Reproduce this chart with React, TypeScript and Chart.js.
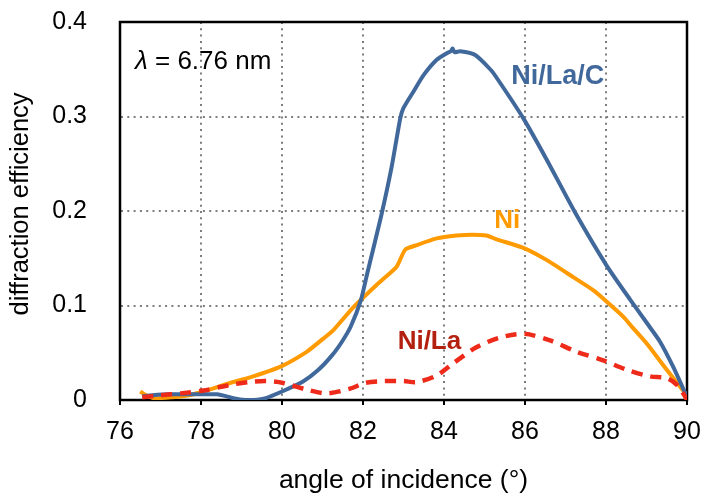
import React, { useEffect, useRef } from "react";
import { Chart, registerables } from "chart.js";

Chart.register(...registerables);

// Ni/La/C (blue)
const niLaCAngle = [76.55, 76.8, 77.2, 77.6, 78.0, 78.4, 78.8, 79.1, 79.3, 79.6, 80.0, 80.5, 80.9, 81.25, 81.5, 81.7, 81.95, 82.1, 82.45, 82.7, 82.92, 83.0, 83.24, 83.5, 83.82, 84.07, 84.17, 84.21, 84.26, 84.4, 84.77, 85.14, 85.3, 85.96, 86.54, 87.23, 88.02, 88.6, 89.0, 89.33, 89.66, 90.0];
const niLaCEff = [0.004, 0.005, 0.006, 0.006, 0.006, 0.006, 0.002, 0.0, 0.0, 0.002, 0.009, 0.019, 0.032, 0.048, 0.063, 0.078, 0.106, 0.133, 0.195, 0.245, 0.298, 0.309, 0.326, 0.344, 0.36, 0.367, 0.369, 0.372, 0.368, 0.369, 0.365, 0.35, 0.341, 0.298, 0.254, 0.199, 0.142, 0.106, 0.082, 0.062, 0.035, 0.003];

// Ni (orange)
const niAngle = [76.5, 76.6, 76.85, 77.3, 77.7, 78.06, 78.72, 79.29, 79.95, 80.61, 81.02, 81.27, 81.76, 82.34, 82.83, 83.04, 83.33, 83.82, 84.31, 84.7, 85.05, 85.3, 85.96, 86.54, 87.19, 87.69, 88.02, 88.43, 88.67, 89.0, 89.5, 89.83, 90.0];
const niEff = [0.009, 0.006, 0.002, 0.003, 0.005, 0.009, 0.018, 0.025, 0.035, 0.051, 0.065, 0.074, 0.098, 0.122, 0.141, 0.159, 0.164, 0.171, 0.174, 0.175, 0.174, 0.17, 0.161, 0.148, 0.13, 0.116, 0.104, 0.088, 0.076, 0.06, 0.032, 0.014, 0.005];

// Ni/La (red dashed)
const niLaAngle = [76.55, 77.0, 77.5, 78.06, 78.72, 79.21, 79.62, 80.03, 80.61, 81.1, 81.68, 82.05, 82.5, 83.0, 83.33, 83.82, 84.23, 84.81, 85.38, 85.98, 86.62, 87.28, 87.93, 88.51, 89.09, 89.5, 89.75, 89.95, 90.0];
const niLaEff = [0.003, 0.005, 0.007, 0.01, 0.016, 0.019, 0.02, 0.018, 0.011, 0.007, 0.012, 0.018, 0.02, 0.02, 0.019, 0.026, 0.039, 0.056, 0.066, 0.07, 0.063, 0.051, 0.042, 0.032, 0.025, 0.023, 0.016, 0.004, 0.0];

const xTicks = [76, 78, 80, 82, 84, 86, 88, 90];
const yTicks = [0, 0.1, 0.2, 0.3, 0.4];
const yTickLabels = ["0", "0.1", "0.2", "0.3", "0.4"];

const xTitle = "angle of incidence (°)";
const yTitle = "diffraction efficiency";

const seriesLabels = ["Ni/La/C", "Ni", "Ni/La"];

const FONT = "'Liberation Sans', Arial, Helvetica, sans-serif";
const BLUE = "#41689b";
const ORANGE = "#ff9a00";
const RED = "#ee2a1b";
const DARKRED = "#b3200f";

const zip = (xs: number[], ys: number[]) => xs.map((x, i) => ({ x, y: ys[i] }));

const framePlugin = {
  id: "frame",
  beforeDatasetsDraw(chart: any) {
    const { ctx, chartArea } = chart;
    const { left, top, right, bottom } = chartArea;
    ctx.save();
    ctx.strokeStyle = "#000";
    ctx.lineWidth = 2.5;
    ctx.strokeRect(left, top, right - left, bottom - top);
    ctx.restore();
  },
};

const labelPlugin = {
  id: "seriesLabels",
  afterDatasetsDraw(chart: any) {
    const { ctx, scales } = chart;
    const xs = scales.x;
    const ys = scales.y;
    ctx.save();
    ctx.textBaseline = "middle";
    ctx.textAlign = "center";
    const put = (text: string, x: number, y: number, color: string, size: number) => {
      ctx.font = `bold ${size}px ${FONT}`;
      ctx.fillStyle = color;
      ctx.fillText(text, xs.getPixelForValue(x), ys.getPixelForValue(y));
    };
    put(seriesLabels[0], 86.81, 0.342, BLUE, 27);
    put(seriesLabels[1], 85.56, 0.19, ORANGE, 26);
    put(seriesLabels[2], 83.64, 0.062, DARKRED, 26);

    // wavelength note
    ctx.textAlign = "left";
    ctx.fillStyle = "#000";
    const lx = xs.getPixelForValue(76.37);
    const ly = ys.getPixelForValue(0.358);
    ctx.font = `italic 26px ${FONT}`;
    ctx.fillText("λ", lx, ly);
    const w = ctx.measureText("λ").width;
    ctx.font = `26px ${FONT}`;
    ctx.fillText(" = 6.76 nm", lx + w, ly);
    ctx.restore();
  },
};

export default function App() {
  const ref = useRef<HTMLCanvasElement | null>(null);

  useEffect(() => {
    if (!ref.current) return;
    const chart = new Chart(ref.current, {
      type: "line",
      data: {
        datasets: [
          {
            label: seriesLabels[0],
            data: zip(niLaCAngle, niLaCEff),
            borderColor: BLUE,
            borderWidth: 4,
            pointRadius: 0,
            tension: 0.2,
            order: 1,
          },
          {
            label: seriesLabels[1],
            data: zip(niAngle, niEff),
            borderColor: ORANGE,
            borderWidth: 4,
            pointRadius: 0,
            tension: 0.2,
            order: 2,
          },
          {
            label: seriesLabels[2],
            data: zip(niLaAngle, niLaEff),
            borderColor: RED,
            borderWidth: 4.5,
            borderDash: [11, 8],
            pointRadius: 0,
            tension: 0.3,
            order: 0,
          },
        ],
      },
      options: {
        animation: false,
        responsive: false,
        devicePixelRatio: 1,
        parsing: false as any,
        layout: { padding: { top: 22, right: 15, left: 0, bottom: 0 } },
        plugins: {
          legend: { display: false },
          tooltip: { enabled: false },
        },
        scales: {
          x: {
            type: "linear",
            min: 76,
            max: 90,
            afterBuildTicks: (s: any) => {
              s.ticks = xTicks.map((v) => ({ value: v }));
            },
            afterFit: (s: any) => {
              s.height = 97;
              s.paddingLeft = 0;
              s.paddingRight = 0;
            },
            ticks: {
              autoSkip: false,
              maxRotation: 0,
              padding: 12,
              color: "#000",
              font: { size: 25, family: FONT },
              callback: (v: any) => String(v),
            },
            grid: {
              color: "#7d7d7d",
              lineWidth: 2,
              drawTicks: true,
              tickLength: 5,
              tickColor: "#000",
              tickWidth: 2,
            },
            border: { display: true, color: "#000", width: 2, dash: [2, 4.3] },
            title: {
              display: true,
              text: xTitle,
              color: "#000",
              font: { size: 26.5, family: FONT },
              padding: { top: 0, bottom: 0 },
            },
          },
          y: {
            type: "linear",
            min: 0,
            max: 0.4,
            afterBuildTicks: (s: any) => {
              s.ticks = yTicks.map((v) => ({ value: v }));
            },
            afterFit: (s: any) => {
              s.width = 120;
              s.paddingTop = 0;
              s.paddingBottom = 0;
            },
            ticks: {
              padding: 33,
              color: "#000",
              font: { size: 25, family: FONT },
              callback: (_v: any, i: number) => yTickLabels[i],
            },
            grid: {
              color: "#7d7d7d",
              lineWidth: 2,
              drawTicks: false,
            },
            border: { display: true, color: "#000", width: 2, dash: [2, 4.3] },
            title: {
              display: true,
              text: "  " + yTitle,
              color: "#000",
              font: { size: 25.5, family: FONT },
              padding: { top: 6, bottom: 0 },
            },
          },
        },
      },
      plugins: [framePlugin, labelPlugin],
    });
    return () => chart.destroy();
  }, []);

  return (
    <div style={{ position: "absolute", left: 0, top: 0, width: 702, height: 497, background: "#fff" }}>
      <canvas ref={ref} width={702} height={497} style={{ display: "block" }} />
    </div>
  );
}
